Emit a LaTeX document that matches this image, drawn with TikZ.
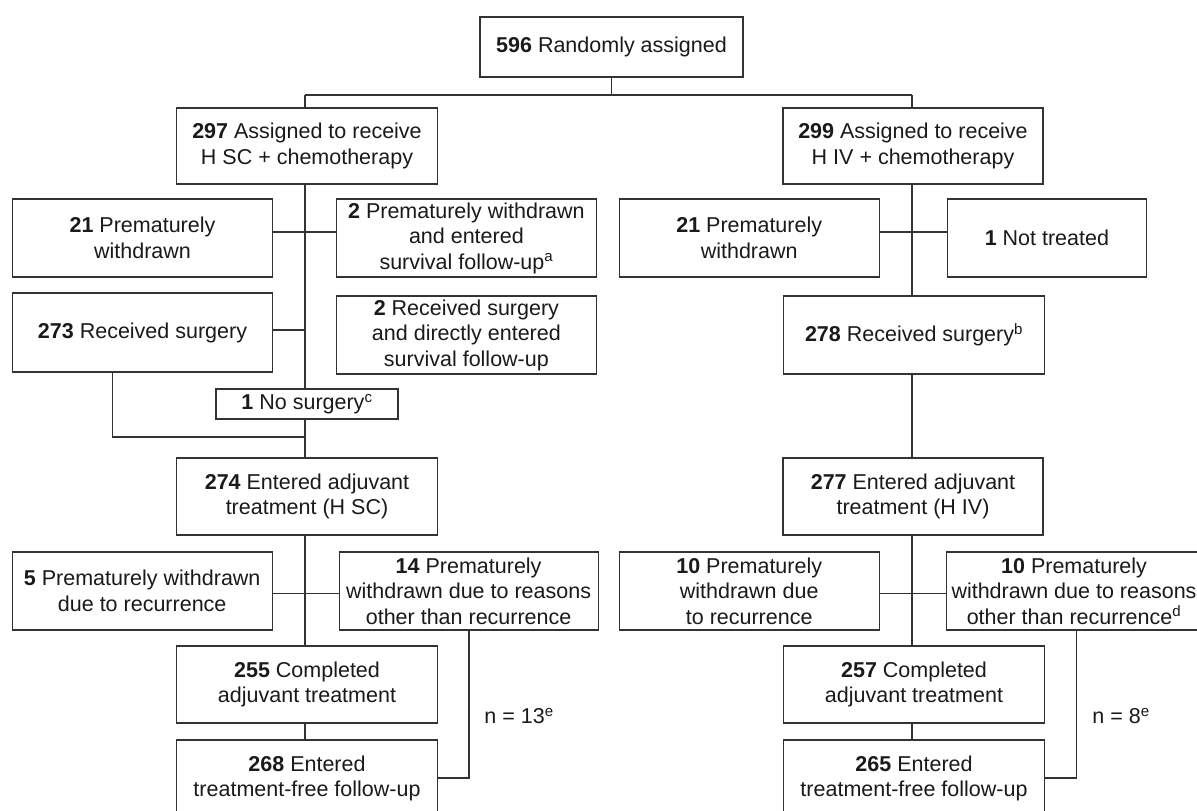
\documentclass[tikz,border=0pt]{standalone}
\usepackage{fontspec}
\setmainfont{Liberation Sans}
\definecolor{linec}{HTML}{333333}
\definecolor{textc}{HTML}{1A1A1A}
\begin{document}
\begin{tikzpicture}[x=1pt,y=-1pt,
  box/.style={draw=linec, line width=1.1pt, inner sep=0pt, align=center,
    text=textc, font=\fontsize{21.5}{25.5}\selectfont},
  conn/.style={draw=linec, line width=1.1pt},
  lab/.style={text=textc, font=\fontsize{21.5}{25.5}\selectfont, inner sep=0pt}]
\useasboundingbox[fill=white] (0,0) rectangle (1197,811);

% top
\node[box, minimum width=263pt, minimum height=60pt] (top) at (611.5,47) {\textbf{596} Randomly assigned};
\node[box, minimum width=261pt, minimum height=76pt] (L297) at (307,146) {\textbf{297} Assigned to receive\\H SC + chemotherapy};
\node[box, minimum width=260pt, minimum height=76pt] (R299) at (913,146) {\textbf{299} Assigned to receive\\H IV + chemotherapy};

% left arm
\node[box, minimum width=260pt, minimum height=78pt] (L21) at (142.5,238) {\textbf{21} Prematurely\\withdrawn};
\node[box, minimum width=260pt, minimum height=78pt] (L2PW) at (466.4,238) {\textbf{2} Prematurely withdrawn\\and entered\\survival follow-up\textsuperscript{a}};
\node[box, minimum width=260pt, minimum height=79pt] (L273) at (142.5,332.5) {\textbf{273} Received surgery};
\node[box, minimum width=260pt, minimum height=78pt] (L2RS) at (466.4,335) {\textbf{2} Received surgery\\and directly entered\\survival follow-up};
\node[box, minimum width=182pt, minimum height=30pt] (Lno) at (307,404) {\textbf{1} No surgery\textsuperscript{c}};
\node[box, minimum width=261pt, minimum height=77pt] (L274) at (307,496.5) {\textbf{274} Entered adjuvant\\treatment (H SC)};
\node[box, minimum width=260pt, minimum height=78pt] (L5) at (142.2,591) {\textbf{5} Prematurely withdrawn\\due to recurrence};
\node[box, minimum width=259pt, minimum height=78pt] (L14) at (468.6,591) {\textbf{14} Prematurely\\withdrawn due to reasons\\other than recurrence};
\node[box, minimum width=261pt, minimum height=77pt] (L255) at (307,684.5) {\textbf{255} Completed\\adjuvant treatment};
\node[box, minimum width=261pt, minimum height=77pt] (L268) at (307,778.5) {\textbf{268} Entered\\treatment-free follow-up};
\node[lab] (n13) at (519,716) {n = 13\textsuperscript{e}};

% right arm
\node[box, minimum width=260pt, minimum height=78pt] (R21) at (749.2,238) {\textbf{21} Prematurely\\withdrawn};
\node[box, minimum width=199pt, minimum height=78pt] (R1) at (1046.9,238) {\textbf{1} Not treated};
\node[box, minimum width=261pt, minimum height=78pt] (R278) at (914,335) {\textbf{278} Received surgery\textsuperscript{b}};
\node[box, minimum width=260pt, minimum height=77pt] (R277) at (913,496.5) {\textbf{277} Entered adjuvant\\treatment (H IV)};
\node[box, minimum width=260pt, minimum height=78pt] (R10a) at (749.2,591) {\textbf{10} Prematurely\\withdrawn due\\to recurrence};
\node[box, minimum width=255pt, minimum height=78pt] (R10b) at (1074,591) {\textbf{10} Prematurely\\withdrawn due to reasons\\other than recurrence\textsuperscript{d}};
\node[box, minimum width=261pt, minimum height=77pt] (R257) at (914,684.5) {\textbf{257} Completed\\adjuvant treatment};
\node[box, minimum width=261pt, minimum height=77pt] (R265) at (914,778.5) {\textbf{265} Entered\\treatment-free follow-up};
\node[lab] (n8) at (1121,716) {n = 8\textsuperscript{e}};

% coordinates
\coordinate (tj) at (611.5,95);
\coordinate (tl) at (305,95);
\coordinate (tr) at (912,95);
\coordinate (lt) at (305,0);
\coordinate (rt) at (912,0);
\coordinate (a) at (112.7,437);
\coordinate (b) at (469,778);
\coordinate (c) at (1076.4,778);

% connectors
\draw[conn] (top.south) -- (tj);
\draw[conn] (tl) -- (tr);
\draw[conn] (tl) -- (tl |- L297.north);
\draw[conn] (tr) -- (tr |- R299.north);

% left
\draw[conn] (L297.south -| lt) -- (Lno.north -| lt);
\draw[conn] ([yshift=6pt]L21.east) -- ([yshift=6pt]L2PW.west);
\draw[conn] ([yshift=2.5pt]L273.east) -- ([yshift=2.5pt]L273.east -| lt);
\draw[conn] (Lno.south -| lt) -- (L274.north -| lt);
\draw[conn] (L273.south -| a) -- (a) -- (a -| lt);
\draw[conn] (L274.south -| lt) -- (L255.north -| lt);
\draw[conn] ([yshift=-2.3pt]L5.east) -- ([yshift=-2.3pt]L14.west);
\draw[conn] (L255.south -| lt) -- (L268.north -| lt);
\draw[conn] (L14.south -| b) -- (b) -- (b -| L268.east);

% right
\draw[conn] (R299.south -| rt) -- (R278.north -| rt);
\draw[conn] ([yshift=6pt]R21.east) -- ([yshift=6pt]R1.west);
\draw[conn] (R278.south -| rt) -- (R277.north -| rt);
\draw[conn] (R277.south -| rt) -- (R257.north -| rt);
\draw[conn] ([yshift=-2.3pt]R10a.east) -- ([yshift=-2.3pt]R10b.west);
\draw[conn] (R257.south -| rt) -- (R265.north -| rt);
\draw[conn] (R10b.south -| c) -- (c) -- (c -| R265.east);
\end{tikzpicture}
\end{document}
